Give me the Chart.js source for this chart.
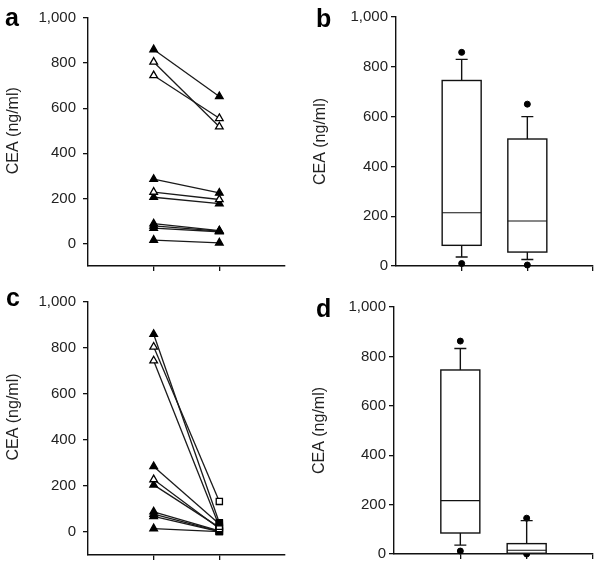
<!DOCTYPE html>
<html>
<head>
<meta charset="utf-8">
<script src="https://cdn.jsdelivr.net/npm/chart.js@4"></script>
<style>
  html, body { margin: 0; padding: 0; background: #fff; }
  #wrap { position: relative; width: 600px; height: 564px; overflow: hidden; }
  canvas { position: absolute; }
</style>
</head>
<body>
<div id="wrap">
  <canvas id="pa" width="300" height="280" style="left:0;top:0;width:300px;height:280px"></canvas>
  <canvas id="pb" width="300" height="280" style="left:300px;top:0;width:300px;height:280px"></canvas>
  <canvas id="pc" width="300" height="284" style="left:0;top:280px;width:300px;height:284px"></canvas>
  <canvas id="pd" width="300" height="284" style="left:300px;top:280px;width:300px;height:284px"></canvas>
</div>
<script>
// ---------------- DATA ----------------
const timepoints = [1, 2];
const yTicks = [0, 200, 400, 600, 800, 1000];
const yTitle = 'CEA (ng/ml)';

// Panel a: paired values (before / after)
const aBefore = [860, 805, 745, 285, 228, 205, 88, 78, 68, 15];
const aAfter  = [652, 518, 555, 224, 195, 177, 57, 55, 52, 3];
const aOpen   = [false, true, true, false, true, false, false, false, false, false];

// Panel c: paired values (before / after)
const cBefore = [860, 805, 745, 285, 228, 205, 88, 78, 68, 15];
const cAfter  = [40, 133, 25, 35, 15, 20, 5, 3, 2, 2];
const cOpen   = [false, true, true, false, true, false, false, false, false, false];

// Box plots: [lower whisker, Q1, median, Q3, upper whisker]
const bBox1 = [36, 83, 214, 745, 830];
const bBox2 = [26, 56, 181, 510, 600];
const bOut1 = [858, 10];
const bOut2 = [650, 4];

const dBox1 = [36, 85, 216, 745, 832];
const dBox2 = [3, 3, 15, 42, 135];
const dOut1 = [862, 12];
const dOut2 = [145, 0];

// ---------------- STYLE / HELPERS ----------------
const FONT = "'Liberation Sans', Arial, Helvetica, sans-serif";
const INK = '#111';

const decorPlugin = {
  id: 'decor',
  afterDraw(chart, args, opts) {
    const ctx = chart.ctx;
    const ys = chart.scales.y;
    ctx.save();
    // panel letter
    ctx.fillStyle = '#000';
    ctx.font = 'bold 25px ' + FONT;
    ctx.textBaseline = 'alphabetic';
    ctx.textAlign = 'left';
    ctx.fillText(opts.letter, opts.lx, opts.ly);
    // y axis title centred on 0..1000 range
    const cy = ys.getPixelForValue(500);
    ctx.translate(opts.tx, cy);
    ctx.rotate(-Math.PI / 2);
    ctx.font = '16px ' + FONT;
    ctx.fillStyle = '#222';
    ctx.textAlign = 'center';
    ctx.textBaseline = 'middle';
    ctx.fillText(yTitle, 0, 0);
    ctx.restore();
  }
};

const boxPlugin = {
  id: 'boxes',
  afterDatasetsDraw(chart, args, opts) {
    if (!opts.stats) return;
    const ctx = chart.ctx;
    const xs = chart.scales.x, ys = chart.scales.y;
    ctx.save();
    ctx.strokeStyle = INK;
    opts.stats.forEach((s, i) => {
      const cx = xs.getPixelForValue(timepoints[i]);
      const hw = 19.5, cw = 6;
      const [lo, q1, med, q3, hi] = s.map(v => ys.getPixelForValue(v));
      ctx.lineWidth = 1.4;
      // whiskers
      ctx.beginPath();
      ctx.moveTo(cx, q3); ctx.lineTo(cx, hi);
      ctx.moveTo(cx - cw, hi); ctx.lineTo(cx + cw, hi);
      if (s[0] < s[1]) {
        ctx.moveTo(cx, q1); ctx.lineTo(cx, lo);
        ctx.moveTo(cx - cw, lo); ctx.lineTo(cx + cw, lo);
      }
      ctx.stroke();
      // box
      ctx.fillStyle = '#fff';
      ctx.fillRect(cx - hw, q3, 2 * hw, q1 - q3);
      ctx.strokeRect(cx - hw, q3, 2 * hw, q1 - q3);
      // median
      ctx.lineWidth = 1.1;
      ctx.beginPath();
      ctx.moveTo(cx - hw, med); ctx.lineTo(cx + hw, med);
      ctx.stroke();
    });
    ctx.restore();
  }
};

function yScale(min, pad, width) {
  return {
    type: 'linear', min: min, max: 1000,
    afterBuildTicks: s => { s.ticks = yTicks.map(v => ({ value: v })); },
    afterFit: s => { s.width = width; s.paddingTop = 0; s.paddingBottom = 0; },
    ticks: {
      color: '#222', padding: pad,
      font: { family: FONT, size: 15 },
      callback: v => Number(v).toLocaleString('en-US')
    },
    grid: { drawOnChartArea: false, drawTicks: true, tickLength: 5, color: INK, lineWidth: 1.3 },
    border: { display: true, color: INK, width: 1.4 },
    title: { display: false }
  };
}
function xScale(tickVals) {
  return {
    type: 'linear', min: 0, max: 3,
    afterBuildTicks: s => { s.ticks = tickVals.map(v => ({ value: v })); },
    afterFit: s => { s.height = 0; s.paddingLeft = 0; s.paddingRight = 0; },
    ticks: { display: true, callback: () => '', font: { size: 1 }, padding: 0 },
    grid: { drawOnChartArea: false, drawTicks: true, tickLength: 5, color: INK, lineWidth: 1.3 },
    border: { display: true, color: INK, width: 1.4 }
  };
}

function linePanel(id, before, after, open, afterStyles, geo) {
  const datasets = before.map((v, i) => ({
    data: [{ x: timepoints[0], y: v }, { x: timepoints[1], y: after[i] }],
    showLine: true,
    borderColor: '#1a1a1a',
    borderWidth: 1.3,
    pointStyle: ['triangle', afterStyles[i]],
    pointRadius: 4.4,
    pointBorderWidth: 1.3,
    pointBorderColor: '#000',
    pointBackgroundColor: open[i] ? '#fff' : '#000',
    clip: false
  }));
  new Chart(document.getElementById(id), {
    type: 'scatter',
    data: { datasets },
    options: {
      responsive: false, animation: false, events: [],
      layout: { padding: { left: 0, right: geo.pr, top: geo.pt, bottom: geo.pb } },
      scales: { x: xScale([1, 2]), y: yScale(-100, 7, geo.yw) },
      plugins: {
        legend: { display: false }, tooltip: { enabled: false },
        decor: { letter: geo.letter, lx: geo.lx, ly: geo.ly, tx: geo.tx }
      }
    },
    plugins: [decorPlugin]
  });
}

function boxPanel(id, stats, outliers, geo) {
  const datasets = outliers.map((arr, i) => ({
    data: arr.map(v => ({ x: timepoints[i], y: v })),
    pointStyle: 'circle',
    pointRadius: 3,
    pointBackgroundColor: '#000',
    pointBorderColor: '#000',
    showLine: false,
    clip: false
  }));
  new Chart(document.getElementById(id), {
    type: 'scatter',
    data: { datasets },
    options: {
      responsive: false, animation: false, events: [],
      layout: { padding: { left: 0, right: geo.pr, top: geo.pt, bottom: geo.pb } },
      scales: { x: xScale([1, 2, 3]), y: yScale(0, 3, geo.yw) },
      plugins: {
        legend: { display: false }, tooltip: { enabled: false },
        boxes: { stats },
        decor: { letter: geo.letter, lx: geo.lx, ly: geo.ly, tx: geo.tx }
      }
    },
    plugins: [boxPlugin, decorPlugin]
  });
}

const aEnd = aBefore.map(() => 'triangle');
const cEnd = cBefore.map(() => 'rect');

linePanel('pa', aBefore, aAfter, aOpen, aEnd,
  { yw: 88, pr: 15, pt: 18, pb: 14, letter: 'a', lx: 5, ly: 26, tx: 14 });
boxPanel('pb', [bBox1, bBox2], [bOut1, bOut2],
  { yw: 96, pr: 7, pt: 17, pb: 14, letter: 'b', lx: 16, ly: 27, tx: 21 });
linePanel('pc', cBefore, cAfter, cOpen, cEnd,
  { yw: 88, pr: 15, pt: 22, pb: 9, letter: 'c', lx: 6, ly: 26, tx: 14 });
boxPanel('pd', [dBox1, dBox2], [dOut1, dOut2],
  { yw: 94, pr: 7, pt: 27, pb: 10, letter: 'd', lx: 16, ly: 37, tx: 20 });
</script>
</body>
</html>
